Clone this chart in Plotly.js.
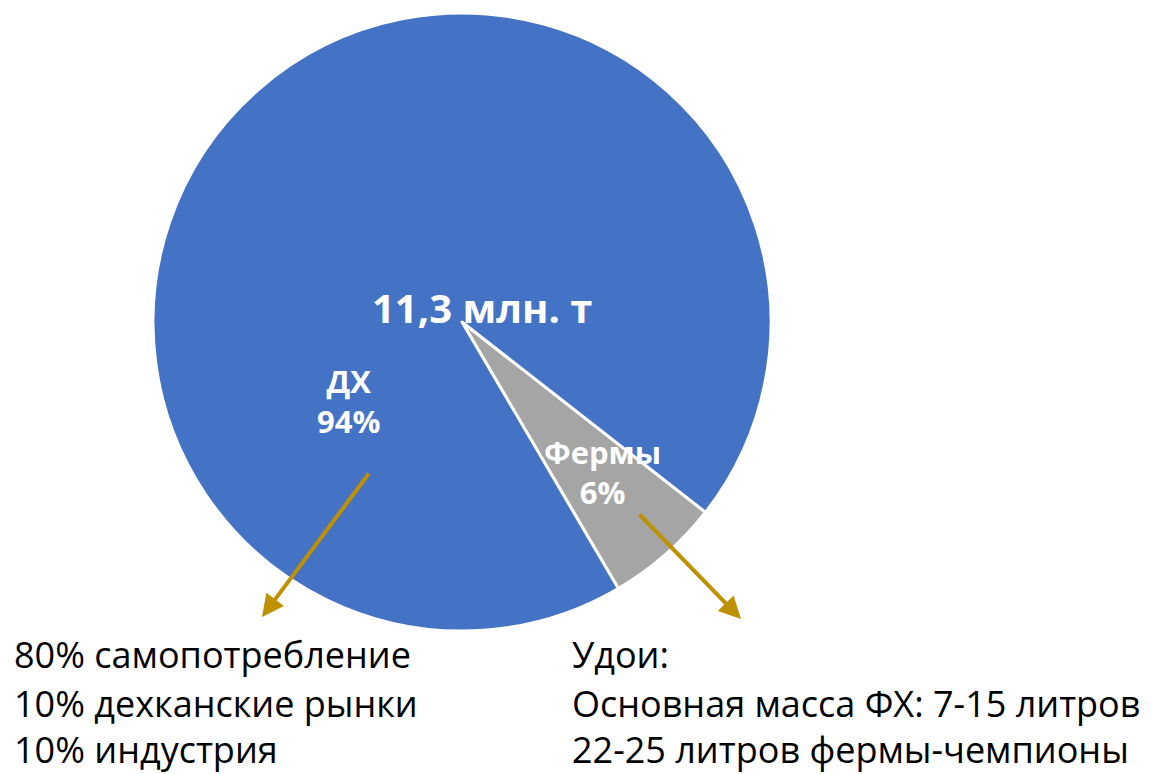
<!DOCTYPE html>
<html>
<head>
<meta charset="utf-8">
<script src="https://cdn.plot.ly/plotly-3.0.1.min.js"></script>
<style>
html,body{margin:0;padding:0;background:#fff;}
#chart{width:1165px;height:774px;}
</style>
</head>
<body>
<div id="chart"></div>
<script>
// ---- data ----
const labels = ['Фермы', 'ДХ'];
const shares = [6, 94];
const totalLabel = '11,3 млн. т';
const leftNotes = ['80% самопотребление', '10% дехканские рынки', '10% индустрия'];
const rightNotes = ['Удои:', 'Основная масса ФХ: 7-15 литров', '22-25 литров фермы-чемпионы'];

// ---- layout helpers ----
const W = 1165, H = 774;
const px = x => x / W;
const py = y => 1 - y / H;
const cx = 462, cy = 322, R = 309;

const trace = {
  type: 'pie',
  labels: labels,
  values: shares,
  sort: false,
  direction: 'clockwise',
  rotation: 128,
  textinfo: 'none',
  hoverinfo: 'label+percent',
  marker: {colors: ['#A5A5A5', '#4472C4'], line: {color: '#ffffff', width: 3}},
  domain: {x: [px(cx - R), px(cx + R)], y: [py(cy + R), py(cy - R)]},
  showlegend: false
};

const whiteBold = size => ({family: 'Open Sans, sans-serif', size: size, color: '#ffffff', weight: 'bold'});
const blackFont = {family: 'Open Sans, sans-serif', size: 36, color: '#000000'};

const annotations = [
  {x: px(482), y: py(307), xref: 'paper', yref: 'paper', text: '<b>' + totalLabel + '</b>', showarrow: false, font: whiteBold(40)},
  {x: px(315), y: py(401), xref: 'paper', yref: 'paper', text: '<b>' + labels[1] + '<br>' + shares[1] + '%</b>', showarrow: false, font: whiteBold(31)},
  {x: px(602), y: py(472), xref: 'paper', yref: 'paper', text: '<b>' + labels[0] + '<br>' + shares[0] + '%</b>', showarrow: false, font: whiteBold(31)},
  // arrows
  {x: px(262), y: py(617), xref: 'paper', yref: 'paper', text: '', showarrow: true, arrowhead: 2, arrowsize: 1.1, arrowwidth: 4, arrowcolor: '#BF9000', ax: 370 - 262, ay: 472 - 617},
  {x: px(741), y: py(619), xref: 'paper', yref: 'paper', text: '', showarrow: true, arrowhead: 2, arrowsize: 1.1, arrowwidth: 4, arrowcolor: '#BF9000', ax: 638 - 741, ay: 513 - 619}
];

const lineYs = [654, 703, 749];
leftNotes.forEach((t, i) => annotations.push({x: px(13), y: py(lineYs[i]), xref: 'paper', yref: 'paper', xanchor: 'left', yanchor: 'middle', borderpad: 0, text: t, showarrow: false, font: blackFont}));
rightNotes.forEach((t, i) => annotations.push({x: px(571), y: py(lineYs[i]), xref: 'paper', yref: 'paper', xanchor: 'left', yanchor: 'middle', borderpad: 0, text: t, showarrow: false, font: blackFont}));

const layout = {
  width: W, height: H,
  margin: {l: 0, r: 0, t: 0, b: 0},
  paper_bgcolor: '#ffffff',
  plot_bgcolor: '#ffffff',
  annotations: annotations
};

Plotly.newPlot('chart', [trace], layout, {displayModeBar: false, staticPlot: true});
</script>
</body>
</html>
